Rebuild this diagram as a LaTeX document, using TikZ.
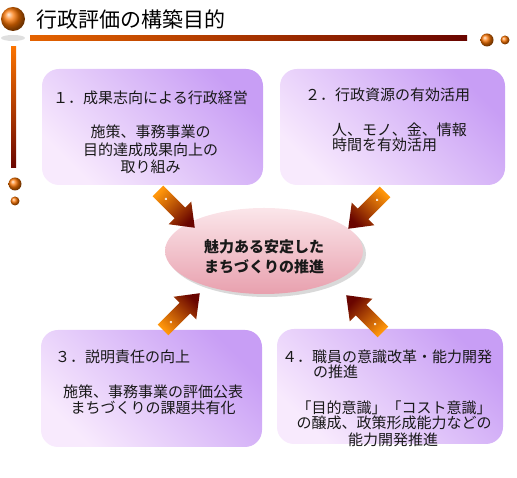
\documentclass[tikz,border=0pt]{standalone}
\usepackage{fontspec}
\newfontfamily\jp{Noto Sans CJK JP}
\usetikzlibrary{shapes.geometric,shadows}
\definecolor{boxtop}{RGB}{200,158,245}
\definecolor{boxbot}{RGB}{248,234,253}
\definecolor{elltop}{RGB}{251,230,234}
\definecolor{ellbot}{RGB}{232,160,174}
\definecolor{darkred}{RGB}{105,5,0}
\definecolor{orng}{RGB}{250,115,0}
\definecolor{bright}{RGB}{255,150,10}
\definecolor{txt}{RGB}{25,25,25}
\tikzset{
  box/.style={rounded corners=17pt, top color=boxtop, bottom color=boxbot, shading angle=-45, inner sep=0pt},
  jtxt/.style={font=\jp\fontsize{15}{16}\selectfont, text=txt, inner sep=0pt},
  ell/.style={ellipse, top color=elltop, bottom color=ellbot, inner sep=0pt,
    drop shadow={shadow xshift=3pt, shadow yshift=-3pt, fill=gray!30, opacity=1}},
  orb/.style={circle, ball color=orng, inner sep=0pt},
}
\newcommand\fatarrow[3]{%
  \begin{scope}[shift={(#1)}, rotate=#2]
    \shade[top color=darkred, bottom color=bright, shading angle=#3]
      (0,-7.5) -- (31,-7.5) -- (31,-16) -- (52,0) -- (31,16) -- (31,7.5) -- (0,7.5) -- cycle;
    \fill[white, opacity=0.8] (11,0) circle (1.4);
  \end{scope}}
\begin{document}
\begin{tikzpicture}[x=1pt,y=1pt]
\useasboundingbox (0,0) rectangle (517,478);
% header decoration
\node[orb, minimum size=24pt] (o1) at (13,459) {};
\fill[gray!25] (13,440) ellipse [x radius=12, y radius=3];
\node[anchor=west, font=\jp\fontsize{21}{21}\selectfont, inner sep=0pt] (title) at (36,458) {行政評価の構築目的};
\shade[left color=orng!85!darkred, middle color=bright, right color=darkred] (30,437) rectangle (467,442);
\node[orb, minimum size=13pt] (o2) at (487,438) {};
\node[orb, minimum size=9pt] (o3) at (505,438) {};
\shade[top color=orng, middle color=bright, bottom color=darkred] (11,310) rectangle (16,431);
\node[orb, minimum size=13pt] (o4) at (15,294) {};
\node[orb, minimum size=9pt] (o5) at (15,277) {};
% boxes
\node[box, minimum width=221pt, minimum height=116pt] (b1) at (152.5,351) {};
\node[box, minimum width=225pt, minimum height=116pt] (b2) at (392.5,351) {};
\node[box, minimum width=221pt, minimum height=117pt] (b3) at (151.5,89.5) {};
\node[box, minimum width=226pt, minimum height=115pt] (b4) at (390,91.5) {};
% box 1
\node[jtxt] (t11) at (150.5,380) {１．成果志向による行政経営};
\node[jtxt] (t12) at (150.5,346) {施策、事務事業の};
\node[jtxt] (t13) at (150.5,328) {目的達成成果向上の};
\node[jtxt] (t14) at (150.5,311) {取り組み};
% box 2
\node[jtxt] (t21) at (387.5,383) {２．行政資源の有効活用};
\node[jtxt, anchor=west] (t22) at (332,348) {人、モノ、金、情報};
\node[jtxt, anchor=west] (t23) at (332,333) {時間を有効活用};
% box 3
\node[jtxt, anchor=west] (t31) at (55,121) {３．説明責任の向上};
\node[jtxt] (t32) at (153,86) {施策、事務事業の評価公表};
\node[jtxt] (t33) at (153,70) {まちづくりの課題共有化};
% box 4
\node[jtxt, anchor=west] (t41) at (282,121) {４．職員の意識改革・能力開発};
\node[jtxt, anchor=west] (t42) at (313,106) {の推進};
\node[jtxt] (t43) at (394,70) {「目的意識」「コスト意識」};
\node[jtxt] (t44) at (394,55) {の醸成、政策形成能力などの};
\node[jtxt] (t45) at (393,38) {能力開発推進};
% centre
\node[ell, minimum width=198pt, minimum height=86pt] (e) at (264,227) {};
\node[font=\jp\bfseries\fontsize{15}{20}\selectfont, text=txt, align=center, inner sep=0pt] (et) at (264,221) {魅力ある安定した\\まちづくりの推進};
% arrows
\coordinate (a1) at (158,287);
\coordinate (a2) at (385,286);
\coordinate (a3) at (163,148);
\coordinate (a4) at (383,146);
\fatarrow{a1}{-45}{-135}
\fatarrow{a2}{-135}{135}
\fatarrow{a3}{45}{-45}
\fatarrow{a4}{135}{45}
\end{tikzpicture}
\end{document}
